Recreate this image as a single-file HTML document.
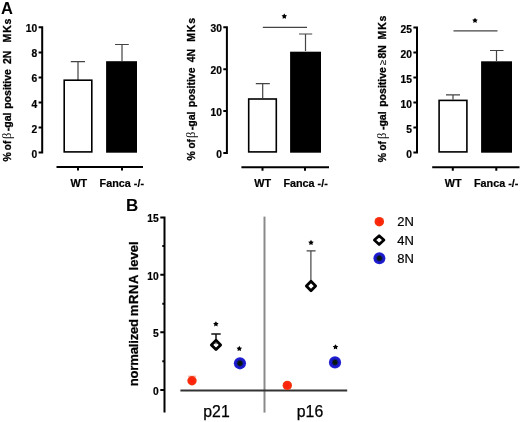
<!DOCTYPE html>
<html>
<head>
<meta charset="utf-8">
<style>
html,body{margin:0;padding:0;background:#fff;}
body{width:520px;height:422px;overflow:hidden;}
svg{display:block;filter:blur(0.35px);}
text{font-family:"Liberation Sans",sans-serif;fill:#000;}
.b{font-weight:bold;}
.t{font-size:10.25px;font-weight:bold;stroke:#000;stroke-width:0.2px;}
.yl text{font-size:11.3px;font-weight:bold;stroke:#000;stroke-width:0.3px;}
.ylb text{font-size:13.1px;font-weight:bold;stroke:#000;stroke-width:0.25px;}
.xl{font-size:10.8px;font-weight:bold;stroke:#000;stroke-width:0.2px;}
.ax{stroke:#000;stroke-width:2;fill:none;}
.er{stroke:#444;stroke-width:1.2;fill:none;}
</style>
</head>
<body>
<svg width="520" height="422" viewBox="0 0 520 422">
<rect width="520" height="422" fill="#fff"/>
<defs>
<radialGradient id="bl"><stop offset="0" stop-color="#04160a"/><stop offset="0.32" stop-color="#08180f"/><stop offset="0.58" stop-color="#1818c4"/><stop offset="1" stop-color="#2222d6"/></radialGradient>
<radialGradient id="rd"><stop offset="0" stop-color="#ff1c08"/><stop offset="0.7" stop-color="#fa2a0c"/><stop offset="1" stop-color="#f23a14"/></radialGradient>
</defs>

<!-- Panel letters -->
<text x="1" y="13.5" class="b" font-size="16.5">A</text>
<text x="126" y="210.7" class="b" font-size="17">B</text>

<!-- ===== Chart 1 ===== -->
<g>
<path class="ax" d="M42.2 26.3V153.6 M38.6 27.3H42.2 M38.6 52.4H42.2 M38.6 77.4H42.2 M38.6 102.5H42.2 M38.6 127.5H42.2 M38.6 152.6H42.2"/>
<g class="t" text-anchor="end">
<text x="37.2" y="32.3">10</text><text x="37.2" y="57.4">8</text><text x="37.2" y="82.4">6</text><text x="37.2" y="107.5">4</text><text x="37.2" y="132.5">2</text><text x="37.2" y="157.6">0</text>
</g>
<g transform="translate(11.3,0) rotate(-90)" class="yl">
<text transform="translate(-156.85,0) scale(0.93,1)" x="0" y="0" text-anchor="middle">%</text>
<text transform="translate(-145.50,0) scale(0.88,1)" x="0" y="0" text-anchor="middle">of</text>
<text x="-135.90" y="0" text-anchor="middle" style="font-weight:normal;font-family:'Liberation Serif';font-size:12.5px;stroke-width:0">β</text>
<text transform="translate(-121.90,0) scale(0.93,1)" x="0" y="0" text-anchor="middle">-gal</text>
<text transform="translate(-88.95,0) scale(0.93,1)" x="0" y="0" text-anchor="middle">positive</text>
<text transform="translate(-57.35,0) scale(0.93,1)" x="0" y="0" text-anchor="middle">2N</text>
<text transform="translate(-30.10,0) scale(0.93,1)" x="0" y="0" text-anchor="middle" style="letter-spacing:0.85px">MKs</text>
</g>
<path class="er" d="M78 80V61.6 M70.8 61.6H85"/>
<rect x="64.2" y="80.2" width="27.6" height="71.7" fill="#fff" stroke="#000" stroke-width="1.6"/>
<path class="er" d="M122 61V44.5 M115 44.5H128.8"/>
<rect x="106.1" y="61.2" width="30.9" height="91.5" fill="#000"/>
<path class="ax" d="M56.5 167H143 M78 167V170.5 M122 167V170.5"/>
<text class="xl" text-anchor="middle" x="78.8" y="186.9">WT</text>
<text class="xl" text-anchor="middle" x="121.8" y="186.9">Fanca -/-</text>
</g>

<!-- ===== Chart 2 ===== -->
<g>
<path class="ax" d="M226.9 26.3V153.9 M223.3 27.3H226.9 M223.3 69.2H226.9 M223.3 111.0H226.9 M223.3 152.9H226.9"/>
<g class="t" text-anchor="end">
<text x="221.9" y="32.3">30</text><text x="221.9" y="74.2">20</text><text x="221.9" y="116.0">10</text><text x="221.9" y="157.9">0</text>
</g>
<g transform="translate(195.2,0) rotate(-90)" class="yl">
<text transform="translate(-155.80,0) scale(0.93,1)" x="0" y="0" text-anchor="middle">%</text>
<text transform="translate(-143.90,0) scale(0.88,1)" x="0" y="0" text-anchor="middle">of</text>
<text x="-134.80" y="0" text-anchor="middle" style="font-weight:normal;font-family:'Liberation Serif';font-size:12.5px;stroke-width:0">β</text>
<text transform="translate(-120.95,0) scale(0.93,1)" x="0" y="0" text-anchor="middle">-gal</text>
<text transform="translate(-87.30,0) scale(0.93,1)" x="0" y="0" text-anchor="middle">positive</text>
<text transform="translate(-55.60,0) scale(0.93,1)" x="0" y="0" text-anchor="middle">4N</text>
<text transform="translate(-29.50,0) scale(0.93,1)" x="0" y="0" text-anchor="middle" style="letter-spacing:0.85px">MKs</text>
</g>
<path class="er" d="M262.7 98V83.6 M255.8 83.6H269.8"/>
<rect x="248.7" y="99" width="27.6" height="52.9" fill="#fff" stroke="#000" stroke-width="1.6"/>
<path class="er" d="M305.5 51V34 M299 34H312.2"/>
<rect x="290.1" y="51.7" width="30.9" height="101" fill="#000"/>
<path class="er" d="M262.8 27.3H307"/>
<path d="M284.30 13.45L285.21 15.10L287.06 15.45L285.77 16.83L286.00 18.70L284.30 17.90L282.60 18.70L282.83 16.83L281.54 15.45L283.39 15.10Z" fill="#000"/>
<path class="ax" d="M241.4 167.3H329 M262.5 167.3V170.8 M305 167.3V170.8"/>
<text class="xl" text-anchor="middle" x="262.6" y="187">WT</text>
<text class="xl" text-anchor="middle" x="305.6" y="187">Fanca -/-</text>
</g>

<!-- ===== Chart 3 ===== -->
<g>
<path class="ax" d="M417.0 26.5V153.6 M413.4 27.5H417.0 M413.4 52.5H417.0 M413.4 77.5H417.0 M413.4 102.6H417.0 M413.4 127.6H417.0 M413.4 152.6H417.0"/>
<g class="t" text-anchor="end">
<text x="412.0" y="32.5">25</text><text x="412.0" y="57.5">20</text><text x="412.0" y="82.5">15</text><text x="412.0" y="107.6">10</text><text x="412.0" y="132.6">5</text><text x="412.0" y="157.6">0</text>
</g>
<g transform="translate(386,0) rotate(-90)" class="yl">
<text transform="translate(-157.50,0) scale(0.93,1)" x="0" y="0" text-anchor="middle">%</text>
<text transform="translate(-145.90,0) scale(0.88,1)" x="0" y="0" text-anchor="middle">of</text>
<text x="-135.80" y="0" text-anchor="middle" style="font-weight:normal;font-family:'Liberation Serif';font-size:12.5px;stroke-width:0">β</text>
<text transform="translate(-120.75,0) scale(0.93,1)" x="0" y="0" text-anchor="middle">-gal</text>
<text transform="translate(-86.95,0) scale(0.93,1)" x="0" y="0" text-anchor="middle">positive</text>
<text x="-62.40" y="0" text-anchor="middle" style="font-weight:normal;font-size:10px;stroke-width:0.1px">≥</text>
<text transform="translate(-51.85,0) scale(0.93,1)" x="0" y="0" text-anchor="middle">8N</text>
<text transform="translate(-27.10,0) scale(0.93,1)" x="0" y="0" text-anchor="middle" style="letter-spacing:0.85px">MKs</text>
</g>
<path class="er" d="M453 99.5V94.8 M446 94.8H460"/>
<rect x="439.1" y="100.4" width="27.8" height="51.5" fill="#fff" stroke="#000" stroke-width="1.6"/>
<path class="er" d="M496.5 61V50.5 M490 50.5H503.5"/>
<rect x="481.1" y="61.3" width="30.9" height="91.4" fill="#000"/>
<path class="er" d="M453.5 30.8H497.5"/>
<path d="M475.00 17.65L475.91 19.30L477.76 19.65L476.47 21.03L476.70 22.90L475.00 22.10L473.30 22.90L473.53 21.03L472.24 19.65L474.09 19.30Z" fill="#000"/>
<path class="ax" d="M432.2 167.3H519.5 M452.8 167.3V170.8 M496.3 167.3V170.8"/>
<text class="xl" text-anchor="middle" x="453.2" y="187.1">WT</text>
<text class="xl" text-anchor="middle" x="496.2" y="187.1">Fanca -/-</text>
</g>

<!-- ===== Panel B ===== -->
<g>
<path class="ax" d="M164.5 216.4V412.5 M160.3 217.4H164.5 M160.3 274.8H164.5 M160.3 332.3H164.5 M160.3 390H164.5 M162.3 246H164.5 M162.3 303.8H164.5 M162.3 361.2H164.5"/>
<g class="t" text-anchor="end">
<text x="158.6" y="222.3">15</text><text x="158.6" y="279.6">10</text><text x="158.6" y="337.1">5</text><text x="158.6" y="394.8">0</text>
</g>
<g transform="translate(137.7,0) rotate(-90)" class="ylb">
<text x="-386.3" y="0" textLength="67.4" lengthAdjust="spacing">normalized</text>
<text x="-316.2" y="0" textLength="41.7" lengthAdjust="spacing">mRNA</text>
<text x="-270.4" y="0">level</text>
</g>
<path d="M264.5 216.6V412.6" stroke="#8a8a8a" stroke-width="2"/>
<path d="M180.4 390.5H347.2" stroke="#333" stroke-width="2"/>

<!-- p21 -->
<path d="M187.8 376.2H196.2" stroke="#f0a090" stroke-width="1"/>
<circle cx="192" cy="380.8" r="4.7" fill="url(#rd)"/>
<path d="M216 340V334 M211.3 334H220.7" stroke="#111" stroke-width="1.5" fill="none"/>
<path d="M216.00 340.25L220.65 344.90L216.00 349.55L211.35 344.90Z" fill="#fff" stroke="#000" stroke-width="2.8" stroke-linejoin="round"/>
<circle cx="216" cy="343.6" r="0.8" fill="#666"/>
<path d="M215.90 321.15L216.81 322.80L218.66 323.15L217.37 324.53L217.60 326.40L215.90 325.60L214.20 326.40L214.43 324.53L213.14 323.15L214.99 322.80Z" fill="#000"/>
<circle cx="239.95" cy="363.3" r="6.1" fill="url(#bl)"/>
<path d="M239.30 345.75L240.21 347.40L242.06 347.75L240.77 349.13L241.00 351.00L239.30 350.20L237.60 351.00L237.83 349.13L236.54 347.75L238.39 347.40Z" fill="#000"/>

<!-- p16 -->
<circle cx="287.3" cy="385.4" r="4.7" fill="url(#rd)"/>
<path d="M310.9 281V250.8 M306.6 250.8H315.6" stroke="#444" stroke-width="1.2" fill="none"/>
<path d="M311.00 281.35L315.65 286.00L311.00 290.65L306.35 286.00Z" fill="#fff" stroke="#000" stroke-width="2.8" stroke-linejoin="round"/>
<path d="M311.00 239.75L311.91 241.40L313.76 241.75L312.47 243.13L312.70 245.00L311.00 244.20L309.30 245.00L309.53 243.13L308.24 241.75L310.09 241.40Z" fill="#000"/>
<circle cx="335" cy="362.4" r="6.1" fill="url(#bl)"/>
<path d="M335.50 344.15L336.41 345.80L338.26 346.15L336.97 347.53L337.20 349.40L335.50 348.60L333.80 349.40L334.03 347.53L332.74 346.15L334.59 345.80Z" fill="#000"/>

<text x="216.5" y="417.4" text-anchor="middle" font-size="15.8" stroke="#000" stroke-width="0.25">p21</text>
<text x="310" y="417.4" text-anchor="middle" font-size="15.8" stroke="#000" stroke-width="0.25">p16</text>

<!-- legend -->
<circle cx="379.3" cy="221.7" r="4.8" fill="url(#rd)"/>
<path d="M379.15 235.70L383.95 240.10L379.15 244.50L374.35 240.10Z" fill="#fff" stroke="#000" stroke-width="2.7" stroke-linejoin="round"/>
<circle cx="379.4" cy="258.3" r="6" fill="url(#bl)"/>
<g stroke="#000" stroke-width="0.2"><text x="397.3" y="226.0" font-size="13">2N</text>
<text x="397.3" y="245.3" font-size="13">4N</text>
<text x="397.3" y="263.3" font-size="13">8N</text></g>
</g>
</svg>
</body>
</html>
